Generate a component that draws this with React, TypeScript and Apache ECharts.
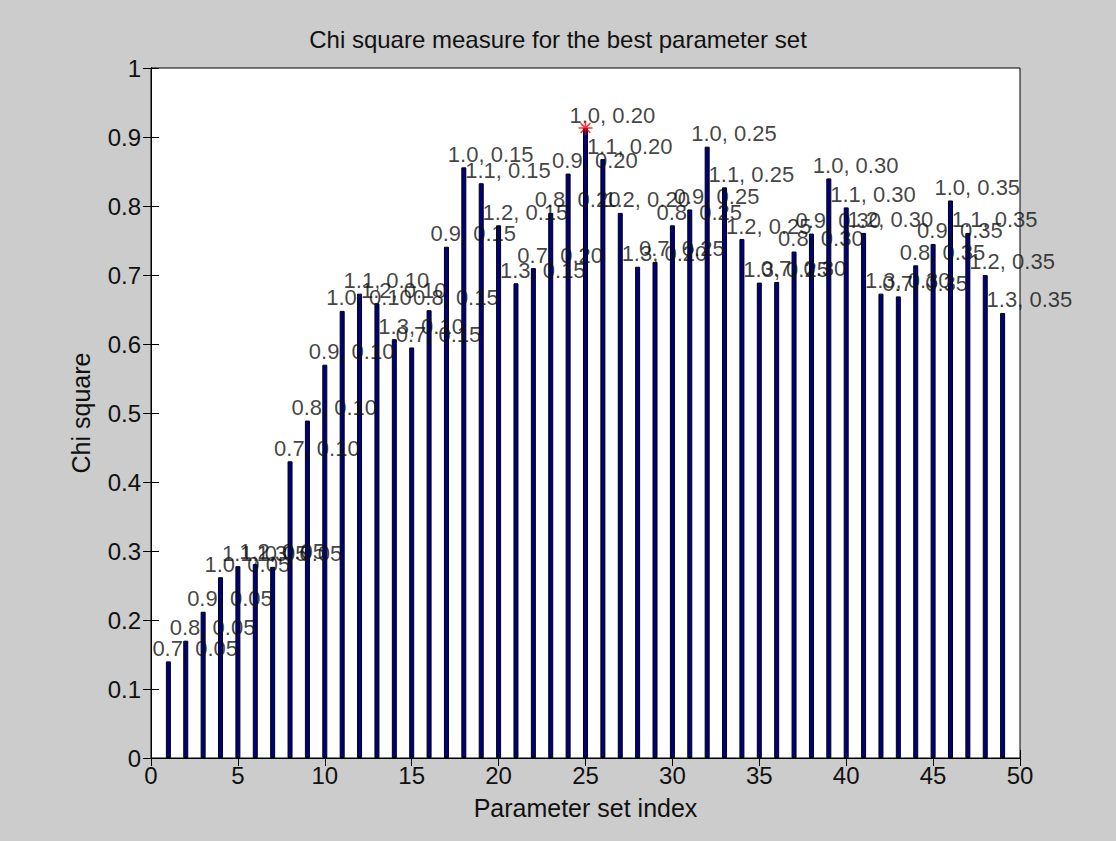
import React, { useEffect, useRef } from "react";
import * as echarts from "echarts";

// Parameter grid: alpha varies fastest, beta per block of 7
const alphas = ["0.7", "0.8", "0.9", "1.0", "1.1", "1.2", "1.3"];
const betas = ["0.05", "0.10", "0.15", "0.20", "0.25", "0.30", "0.35"];

// Chi square per parameter set index (1..49)
const chiSquare = [
  0.140, 0.170, 0.212, 0.262, 0.278, 0.281, 0.277,
  0.430, 0.489, 0.570, 0.648, 0.673, 0.659, 0.607,
  0.595, 0.649, 0.741, 0.856, 0.833, 0.772, 0.688,
  0.710, 0.790, 0.847, 0.913, 0.868, 0.790, 0.712,
  0.719, 0.772, 0.795, 0.886, 0.827, 0.752, 0.689,
  0.690, 0.734, 0.760, 0.840, 0.798, 0.761, 0.673,
  0.669, 0.714, 0.745, 0.808, 0.761, 0.700, 0.645,
];

const FONT = "'Liberation Sans', Arial, Helvetica, sans-serif";

export default function App() {
  const ref = useRef<HTMLDivElement>(null);

  useEffect(() => {
    if (!ref.current) return;
    const chart = echarts.init(ref.current, undefined, { renderer: "svg" });

    const labels = chiSquare.map(
      (_, i) => `${alphas[i % alphas.length]}, ${betas[Math.floor(i / alphas.length)]}`
    );
    const barData = chiSquare.map((v, i) => [i + 1, v]);
    const best = Math.max(...chiSquare);
    const bestIdx = chiSquare.indexOf(best);

    const axisLine = { show: true, lineStyle: { color: "#000", width: 1 } };
    const axisTick = { show: true, inside: true, length: 8, lineStyle: { color: "#000", width: 1 } };

    chart.setOption({
      animation: false,
      backgroundColor: "#cccccc",
      title: {
        text: "Chi square measure for the best parameter set",
        left: "center",
        top: 27,
        padding: 0,
        textStyle: { fontFamily: FONT, fontSize: 24, fontWeight: "normal", color: "#111" },
      },
      grid: {
        left: 151,
        right: 96,
        top: 68,
        bottom: 83,
        show: true,
        backgroundColor: "#ffffff",
        borderColor: "#000",
        borderWidth: 1,
      },
      xAxis: [
        {
          type: "value",
          min: 0,
          max: 50,
          interval: 5,
          name: "Parameter set index",
          nameLocation: "middle",
          nameGap: 37,
          nameTextStyle: { fontFamily: FONT, fontSize: 25, color: "#111" },
          axisLine,
          axisTick,
          axisLabel: { fontFamily: FONT, fontSize: 24, color: "#111", margin: 5 },
          splitLine: { show: false },
        },
        {
          type: "value",
          min: 0,
          max: 50,
          interval: 5,
          position: "top",
          axisLine,
          axisTick,
          axisLabel: { show: false },
          splitLine: { show: false },
        },
      ],
      yAxis: [
        {
          type: "value",
          min: 0,
          max: 1,
          interval: 0.1,
          name: "Chi square",
          nameLocation: "middle",
          nameGap: 58,
          nameTextStyle: { fontFamily: FONT, fontSize: 25, color: "#111" },
          axisLine,
          axisTick,
          axisLabel: {
            fontFamily: FONT,
            fontSize: 24,
            color: "#111",
            margin: 10,
            formatter: (v: number) => (v === 0 ? "0" : v === 1 ? "1" : v.toFixed(1)),
          },
          splitLine: { show: false },
        },
        {
          type: "value",
          min: 0,
          max: 1,
          interval: 0.1,
          position: "right",
          axisLine,
          axisTick,
          axisLabel: { show: false },
          splitLine: { show: false },
        },
      ],
      series: [
        {
          type: "bar",
          data: barData,
          barWidth: 5,
          itemStyle: { color: "#000080", borderColor: "#000", borderWidth: 1 },
        },
        {
          type: "scatter",
          data: barData,
          symbol: "circle",
          symbolSize: 0.01,
          itemStyle: { color: "rgba(0,0,0,0)" },
          silent: true,
          z: 5,
          label: {
            show: true,
            position: [-16, -24],
            align: "left",
            verticalAlign: "top",
            fontFamily: FONT,
            fontSize: 22,
            color: "#111",
            formatter: (p: any) => labels[p.dataIndex],
          },
          labelLayout: { hideOverlap: false },
        },
        {
          type: "scatter",
          data: [[bestIdx + 1, best]],
          symbol: "path://M0,-10L0,10M-10,0L10,0M-7,-7L7,7M-7,7L7,-7",
          symbolSize: 14,
          itemStyle: { color: "none", borderColor: "#ff0000", borderWidth: 1.5 },
          z: 10,
        },
      ],
    });

    return () => chart.dispose();
  }, []);

  return (
    <div
      ref={ref}
      style={{ position: "fixed", left: 0, top: 0, width: 1116, height: 841 }}
    />
  );
}
